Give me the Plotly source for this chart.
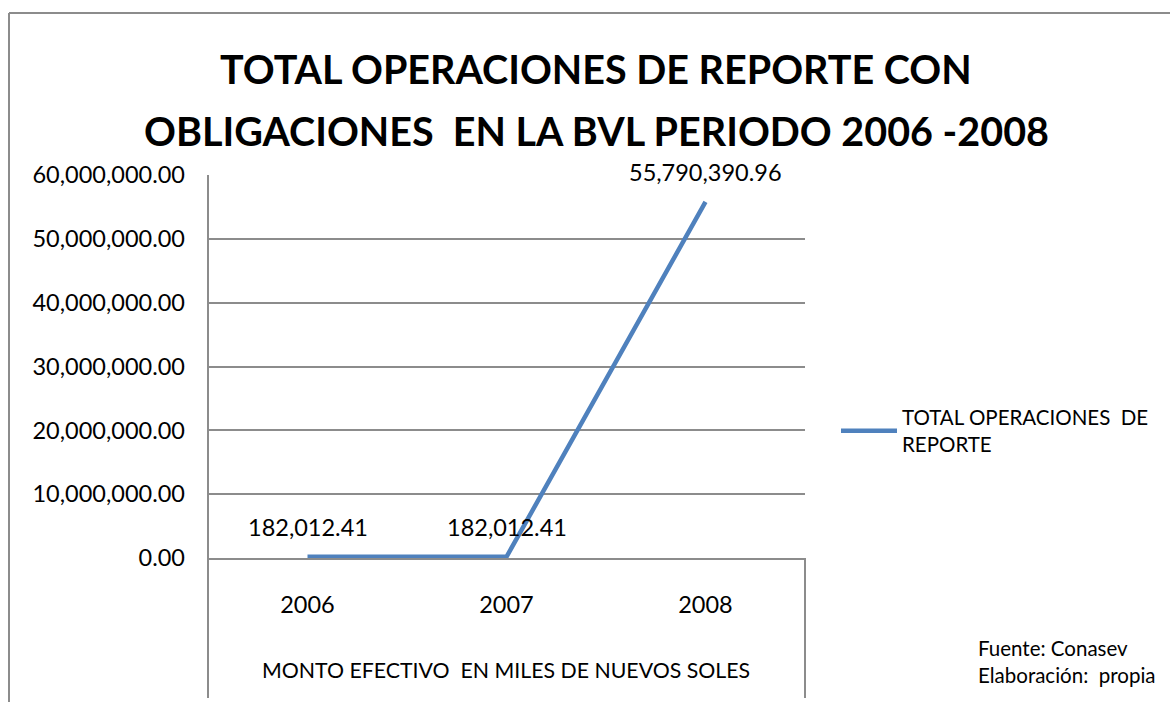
import plotly.graph_objects as go

years = ["2006", "2007", "2008"]
values = [182012.41, 182012.41, 55790390.96]
series_name = "TOTAL OPERACIONES  DE<br>REPORTE"
y_ticks = [0, 10000000, 20000000, 30000000, 40000000, 50000000, 60000000]

W, H = 1170, 702
L, R, T, B = 208, 805, 175, 558
pw, ph = R - L, B - T

def px_x(x):
    return (x - L) / pw

def px_y(y):
    return (B - y) / ph

FONT = "Lato"
GRID = "#8c8c8c"
TXT = 23.5

fig = go.Figure()
fig.add_trace(go.Scatter(
    x=years, y=values, mode="lines", name=series_name,
    line=dict(color="#4F81BD", width=4.5),
))

annotations = []
for i, v in enumerate(values):
    annotations.append(dict(
        x=i, y=v, xref="x", yref="y", text=f"{v:,.2f}", showarrow=False,
        yshift=30, font=dict(family=FONT, size=TXT, color="#000"),
    ))

annotations += [
    dict(x=px_x(596), y=px_y(68), xref="paper", yref="paper", text="<b>TOTAL OPERACIONES DE REPORTE CON</b>",
         showarrow=False, xanchor="center", yanchor="middle", font=dict(family=FONT, size=39.5, color="#000")),
    dict(x=px_x(596), y=px_y(130), xref="paper", yref="paper", text="<b>OBLIGACIONES  EN LA BVL PERIODO 2006 -2008</b>",
         showarrow=False, xanchor="center", yanchor="middle", font=dict(family=FONT, size=39.5, color="#000")),
    dict(x=px_x(506), y=px_y(670), xref="paper", yref="paper", text="MONTO EFECTIVO  EN MILES DE NUEVOS SOLES",
         showarrow=False, xanchor="center", yanchor="middle", font=dict(family=FONT, size=21.3, color="#000")),
    dict(x=px_x(976), y=px_y(648), xref="paper", yref="paper", text="Fuente: Conasev",
         showarrow=False, xanchor="left", yanchor="middle", font=dict(family=FONT, size=20.5, color="#000")),
    dict(x=px_x(976), y=px_y(675), xref="paper", yref="paper", text="Elaboración:  propia",
         showarrow=False, xanchor="left", yanchor="middle", font=dict(family=FONT, size=20.5, color="#000")),
]

shapes = [
    # chart border (left and top)
    dict(type="line", xref="paper", yref="paper", x0=px_x(9), x1=px_x(9), y0=px_y(13), y1=px_y(720),
         line=dict(color=GRID, width=2)),
    dict(type="line", xref="paper", yref="paper", x0=px_x(9), x1=px_x(1180), y0=px_y(13), y1=px_y(13),
         line=dict(color=GRID, width=2)),
    # axis extension lines below the plot
    dict(type="line", xref="paper", yref="paper", x0=0, x1=0, y0=1, y1=px_y(698),
         line=dict(color=GRID, width=2)),
    dict(type="line", xref="paper", yref="paper", x0=1, x1=1, y0=0, y1=px_y(698),
         line=dict(color=GRID, width=2)),
]

fig.update_layout(
    width=W, height=H, autosize=False,
    margin=dict(l=L, r=W - R, t=T, b=H - B, pad=0),
    paper_bgcolor="white", plot_bgcolor="white",
    font=dict(family=FONT, color="#000"),
    showlegend=True,
    legend=dict(xref="container", yref="container", x=836 / W, y=1 - 431 / H, xanchor="left", yanchor="middle",
                font=dict(family=FONT, size=20.5, color="#000"), bgcolor="rgba(0,0,0,0)",
                itemwidth=56, borderwidth=0, tracegroupgap=0),
    xaxis=dict(type="category", range=[-0.5, 2.5], showgrid=False, showline=True, linecolor=GRID, linewidth=2,
               ticks="", tickfont=dict(family=FONT, size=TXT), ticklabelstandoff=25, zeroline=False),
    yaxis=dict(range=[0, 60000000], tickvals=y_ticks, tickformat=",.2f", showgrid=True, gridcolor=GRID,
               gridwidth=2, showline=False, zeroline=False, ticks="",
               tickfont=dict(family=FONT, size=TXT), ticklabelstandoff=22),
    annotations=annotations, shapes=shapes,
)

fig.write_html("out.html", post_script="document.body.style.margin='0px';",
               config={"displayModeBar": False})
